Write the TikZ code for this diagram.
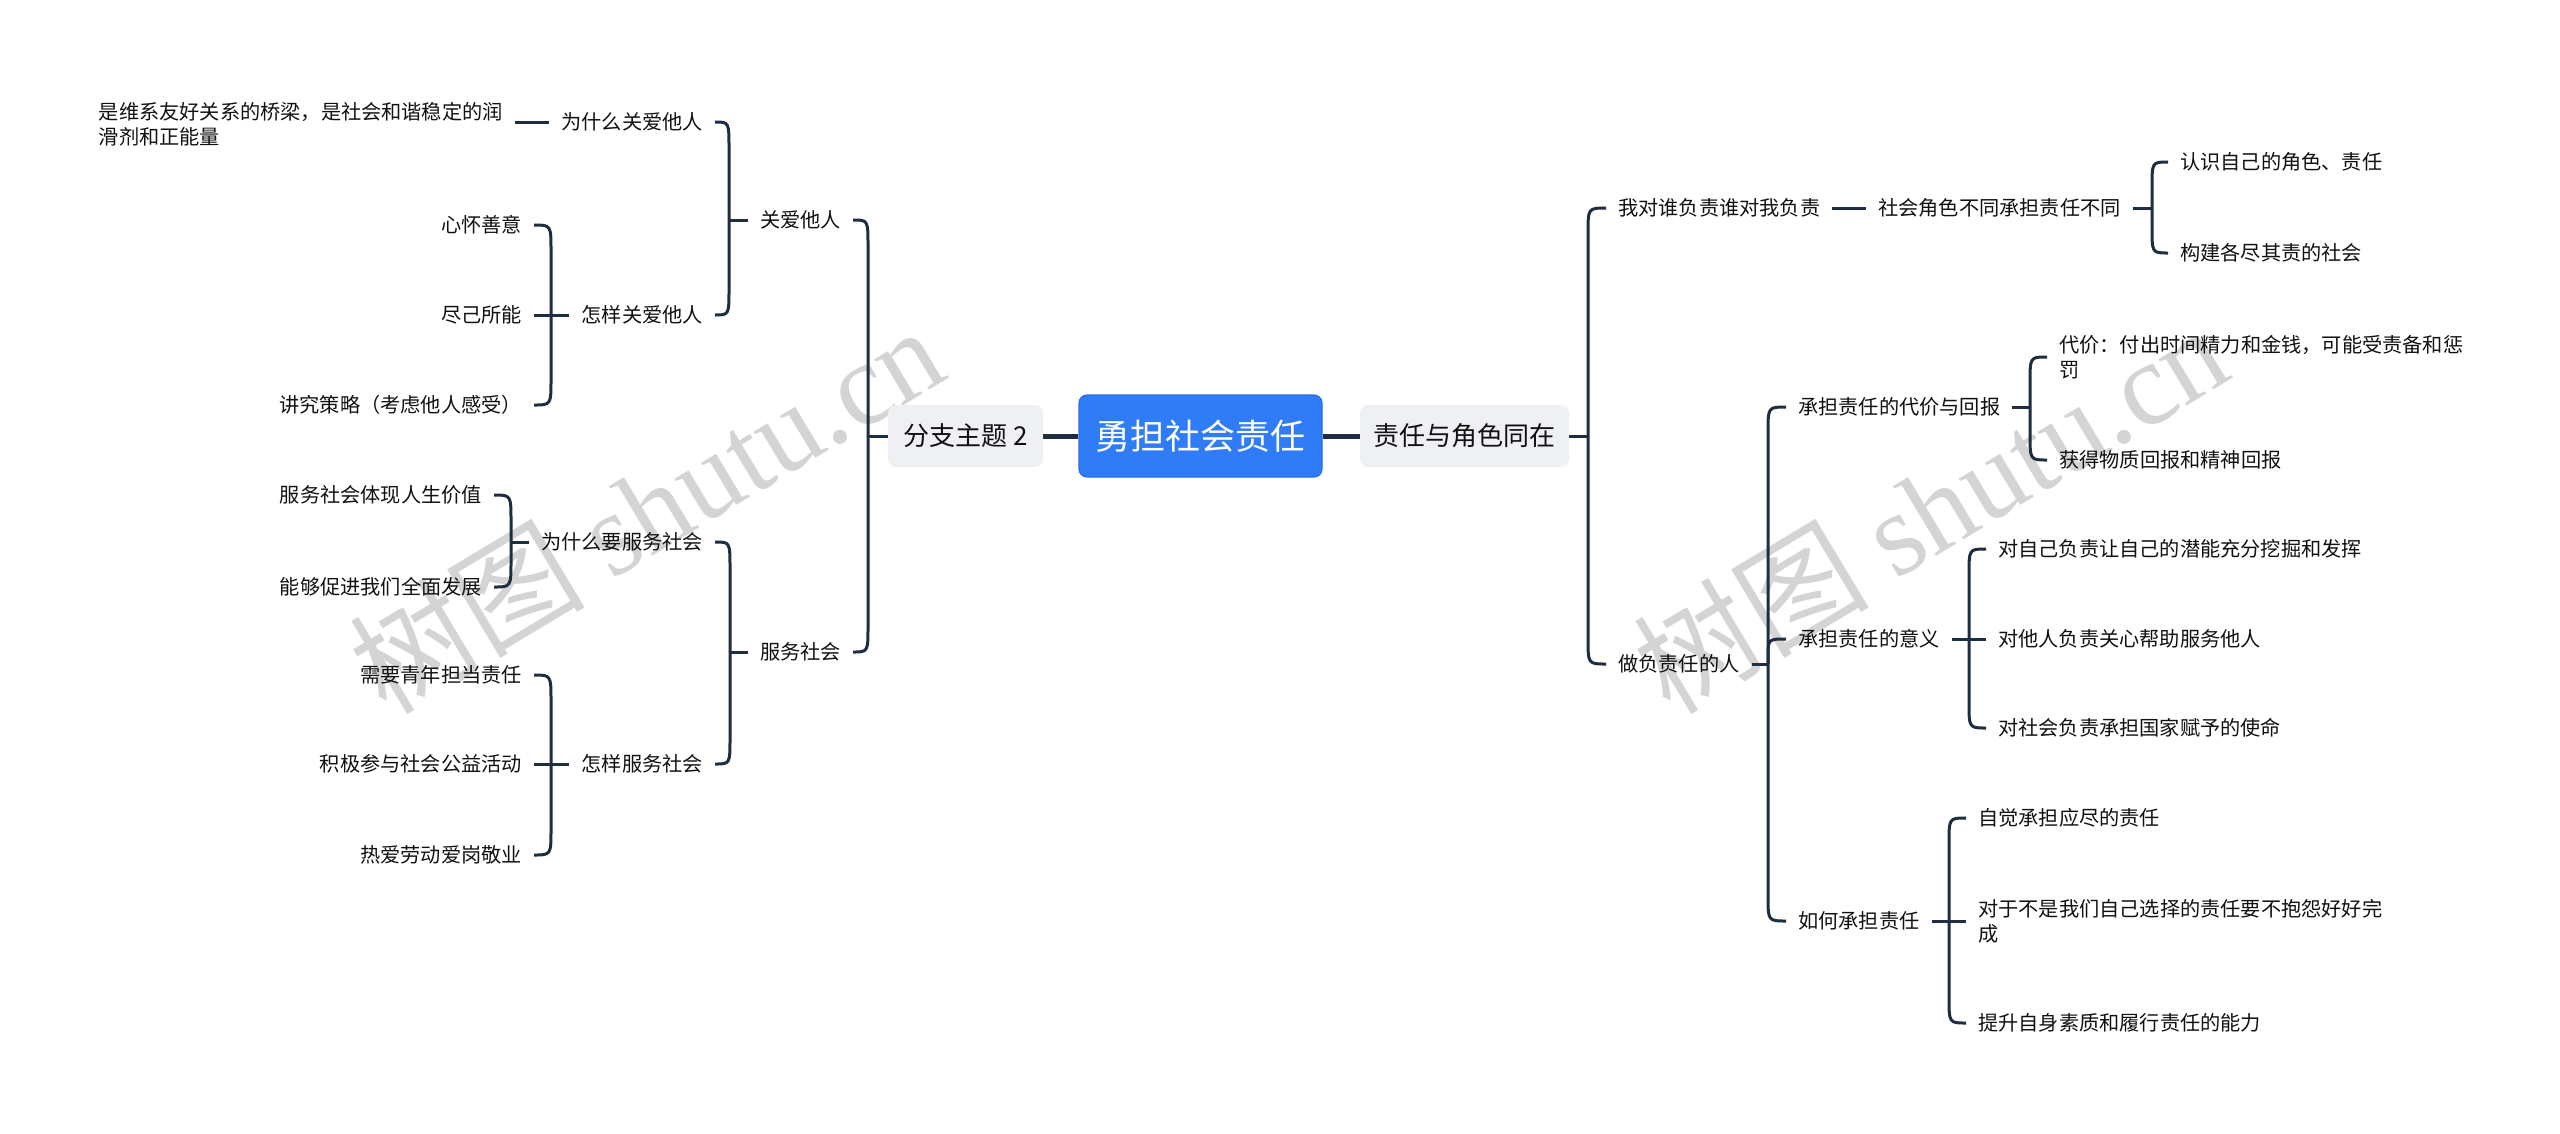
\documentclass[tikz,border=0pt]{standalone}
\usepackage{fontspec}
\setmainfont{Noto Sans CJK SC}
\newfontfamily\wmcjk{Noto Sans CJK SC}
\newfontfamily\wmlat{Liberation Serif}
\usetikzlibrary{calc}
\definecolor{ln}{HTML}{1F2D40}
\definecolor{blu}{HTML}{2F7CF6}
\definecolor{bluedge}{HTML}{2A6FE0}
\definecolor{gbox}{HTML}{EEF0F4}
\definecolor{wm}{RGB}{212,212,212}
\definecolor{txt}{HTML}{111111}
\tikzset{
  br/.style={draw=ln, line width=3pt},
  mainln/.style={draw=ln, line width=5pt},
  leaf/.style={inner xsep=12pt, inner ysep=2pt, font=\fontsize{20.2}{25}\selectfont, text=txt},
  lft/.style={leaf, anchor=east},
  rgt/.style={leaf, anchor=west},
  topbox/.style={fill=gbox, rounded corners=8pt, minimum height=62pt, font=\fontsize{26}{30}\selectfont, text=txt},
  wmark/.style={text=wm, rotate=31, inner sep=0pt},
  hkup/.style={to path={let \p1=(\tikztostart), \p2=(\tikztotarget) in -- (\x1,{\y2-#1}) .. controls (\x1,\y2) .. (\p2)}},
  hkup/.default=26,
  hkdn/.style={to path={let \p1=(\tikztostart), \p2=(\tikztotarget) in -- (\x1,{\y2+#1}) .. controls (\x1,\y2) .. (\p2)}},
  hkdn/.default=26,
}
\begin{document}
\begin{tikzpicture}[x=1pt,y=-1pt]
\useasboundingbox[fill=white] (0,0) rectangle (2560,1133);

% watermarks
\node[wmark] (wm1) at (646,508) {\fontsize{118}{118}\selectfont\wmcjk 树图 \wmlat shutu.cn};
\node[wmark] (wm2) at (1930,508) {\fontsize{118}{118}\selectfont\wmcjk 树图 \wmlat shutu.cn};

% central and first level
\node[fill=blu, draw=bluedge, line width=1.2pt, rounded corners=8pt, minimum width=243pt, minimum height=82pt, text=white, font=\fontsize{35}{40}\selectfont] (ctr) at (1200.5,436) {勇担社会责任};
\node[topbox, minimum width=155pt] (L) at (965.5,436) {分支主题 2};
\node[topbox, minimum width=209pt] (R) at (1464.5,436) {责任与角色同在};
\draw[mainln] (ctr.west) -- (L.east);
\draw[mainln] (ctr.east) -- (R.west);

% ---------------- left side ----------------
\node[lft] (a1) at (853,220) {关爱他人};
\node[lft] (a2) at (853,652) {服务社会};
\node[lft] (b1) at (715,122) {为什么关爱他人};
\node[lft] (b2) at (715,315) {怎样关爱他人};
\node[lft] (b3) at (715,542) {为什么要服务社会};
\node[lft] (b4) at (715,764) {怎样服务社会};
\node[lft, align=left] (c1) at (515,124) {是维系友好关系的桥梁，是社会和谐稳定的润\\滑剂和正能量};
\node[lft] (d1) at (534,225) {心怀善意};
\node[lft] (d2) at (534,315) {尽己所能};
\node[lft] (d3) at (534,405) {讲究策略（考虑他人感受）};
\node[lft] (e1) at (494,495) {服务社会体现人生价值};
\node[lft] (e2) at (494,587) {能够促进我们全面发展};
\node[lft] (f1) at (534,675) {需要青年担当责任};
\node[lft] (f2) at (534,764) {积极参与社会公益活动};
\node[lft] (f3) at (534,855) {热爱劳动爱岗敬业};

\coordinate (sL) at (868,436);
\coordinate (sA1) at (729,220);
\coordinate (sB2) at (551,315);
\coordinate (sA2) at (730,652);
\coordinate (sB3) at (511,542);
\coordinate (sB4) at (551,764);

\draw[br] (L.west) -- (sL);
\draw[br] (sL) to[hkup] (a1.east);
\draw[br] (sL) to[hkdn] (a2.east);

\draw[br] (a1.west) -- (sA1);
\draw[br] (sA1) to[hkup] (b1.east);
\draw[br] (sA1) to[hkdn] (b2.east);

\draw[br] (b1.west) -- (b1.west -| c1.east);

\draw[br] (b2.west) -- (d2.east);
\draw[br] (sB2) to[hkup] (d1.east);
\draw[br] (sB2) to[hkdn] (d3.east);

\draw[br] (a2.west) -- (sA2);
\draw[br] (sA2) to[hkup] (b3.east);
\draw[br] (sA2) to[hkdn] (b4.east);

\draw[br] (b3.west) -- (sB3);
\draw[br] (sB3) to[hkup] (e1.east);
\draw[br] (sB3) to[hkdn] (e2.east);

\draw[br] (b4.west) -- (f2.east);
\draw[br] (sB4) to[hkup] (f1.east);
\draw[br] (sB4) to[hkdn] (f3.east);

% ---------------- right side ----------------
\node[rgt] (g1) at (1606,208) {我对谁负责谁对我负责};
\node[rgt] (g2) at (1606,664) {做负责任的人};
\node[rgt] (h1) at (1866,208) {社会角色不同承担责任不同};
\node[rgt] (i1) at (2168,162) {认识自己的角色、责任};
\node[rgt] (i2) at (2168,253) {构建各尽其责的社会};
\node[rgt] (j1) at (1786,407) {承担责任的代价与回报};
\node[rgt] (j2) at (1786,639) {承担责任的意义};
\node[rgt] (j3) at (1786,921) {如何承担责任};
\node[rgt, align=left] (k1) at (2047,357) {代价：付出时间精力和金钱，可能受责备和惩\\罚};
\node[rgt] (k2) at (2047,460) {获得物质回报和精神回报};
\node[rgt] (l1) at (1986,549) {对自己负责让自己的潜能充分挖掘和发挥};
\node[rgt] (l2) at (1986,639) {对他人负责关心帮助服务他人};
\node[rgt] (l3) at (1986,728) {对社会负责承担国家赋予的使命};
\node[rgt] (m1) at (1966,818) {自觉承担应尽的责任};
\node[rgt, align=left] (m2) at (1966,921) {对于不是我们自己选择的责任要不抱怨好好完\\成};
\node[rgt] (m3) at (1966,1023) {提升自身素质和履行责任的能力};

\coordinate (sR) at (1588,436);
\coordinate (sH1) at (2152,208);
\coordinate (sG2) at (1768,664);
\coordinate (sJ1) at (2030,407);
\coordinate (sJ2) at (1969,639);
\coordinate (sJ3) at (1949,921);

\draw[br] (R.east) -- (sR);
\draw[br] (sR) to[hkup] (g1.west);
\draw[br] (sR) to[hkdn] (g2.west);

\draw[br] (g1.east) -- (h1.west);
\draw[br] (h1.east) -- (sH1);
\draw[br] (sH1) to[hkup] (i1.west);
\draw[br] (sH1) to[hkdn] (i2.west);

\draw[br] (g2.east) -- (sG2);
\draw[br] (sG2) to[hkup] (j1.west);
\draw[br] (sG2) to[hkdn] (j3.west);
\draw[br] (sG2) to[hkup=18] (j2.west);

\draw[br] (j1.east) -- (sJ1);
\draw[br] (sJ1) to[hkup] (k1.west);
\draw[br] (sJ1) to[hkdn] (k2.west);

\draw[br] (j2.east) -- (l2.west);
\draw[br] (sJ2) to[hkup] (l1.west);
\draw[br] (sJ2) to[hkdn] (l3.west);

\draw[br] (j3.east) -- (m2.west);
\draw[br] (sJ3) to[hkup] (m1.west);
\draw[br] (sJ3) to[hkdn] (m3.west);
\end{tikzpicture}
\end{document}
